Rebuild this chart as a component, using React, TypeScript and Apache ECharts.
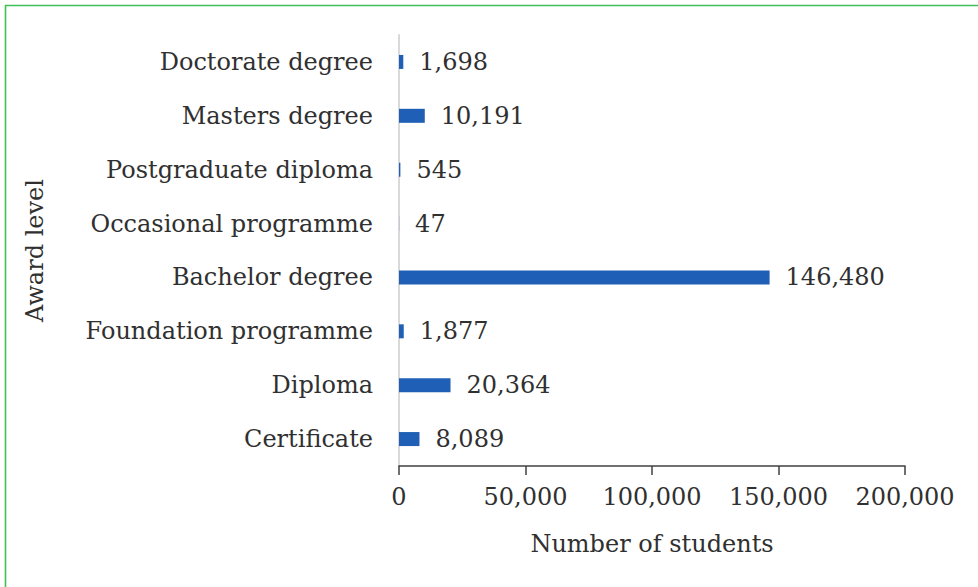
import React, { useEffect, useRef } from "react";
import * as echarts from "echarts";

const categories = [
  "Certificate",
  "Diploma",
  "Foundation programme",
  "Bachelor degree",
  "Occasional programme",
  "Postgraduate diploma",
  "Masters degree",
  "Doctorate degree",
];
const values = [8089, 20364, 1877, 146480, 47, 545, 10191, 1698];
const xTicks = [0, 50000, 100000, 150000, 200000];

const FONT = "DejaVu Serif";
const TEXT = "#303030";
const FS = 24;

function fmt(n: number) {
  return String(n).replace(/\B(?=(\d{3})+(?!\d))/g, ",");
}

export default function App() {
  const ref = useRef<HTMLDivElement>(null);
  useEffect(() => {
    document.body.style.margin = "0";
    const chart = echarts.init(ref.current!, undefined, { renderer: "svg" });
    chart.setOption({
      animation: false,
      backgroundColor: "#ffffff",
      textStyle: { fontFamily: FONT },
      grid: {
        left: 399,
        right: 73,
        top: 35,
        bottom: 121,
        containLabel: false,
        outerBoundsMode: "none",
      },
      xAxis: {
        type: "value",
        min: xTicks[0],
        max: xTicks[xTicks.length - 1],
        interval: 50000,
        name: "Number of students",
        nameLocation: "middle",
        nameGap: 66,
        nameTextStyle: { color: TEXT, fontSize: FS, fontFamily: FONT },
        axisLine: { show: true, lineStyle: { color: "#404040", width: 1.5 } },
        axisTick: { show: true, length: 9, lineStyle: { color: "#404040", width: 1.5 } },
        axisLabel: {
          color: TEXT,
          fontSize: FS,
          fontFamily: FONT,
          margin: 19,
          formatter: (v: number) => fmt(v),
        },
        splitLine: { show: false },
      },
      yAxis: {
        type: "category",
        data: categories,
        name: "Award level",
        nameLocation: "middle",
        nameGap: 352,
        nameRotate: 90,
        nameTextStyle: { color: TEXT, fontSize: FS, fontFamily: FONT },
        axisLine: { show: true, lineStyle: { color: "#d9d9d9", width: 2 } },
        axisTick: { show: false },
        axisLabel: { color: TEXT, fontSize: FS, fontFamily: FONT, margin: 26 },
      },
      series: [
        {
          type: "bar",
          data: values,
          barWidth: 14,
          itemStyle: { color: "#1f5fb5" },
          label: {
            show: true,
            position: "right",
            distance: 16,
            color: TEXT,
            fontSize: FS,
            fontFamily: FONT,
            formatter: (p: any) => fmt(p.value),
          },
        },
      ],
      graphic: [
        {
          type: "line",
          shape: { x1: 5, y1: 5.5, x2: 978, y2: 5.5 },
          style: { stroke: "#3fbf55", lineWidth: 1.6 },
        },
        {
          type: "line",
          shape: { x1: 5.5, y1: 5, x2: 5.5, y2: 587 },
          style: { stroke: "#3fbf55", lineWidth: 1.6 },
        },
      ],
    });
    return () => chart.dispose();
  }, []);
  return (
    <div
      ref={ref}
      style={{ position: "absolute", left: 0, top: 0, width: 978, height: 587 }}
    />
  );
}
